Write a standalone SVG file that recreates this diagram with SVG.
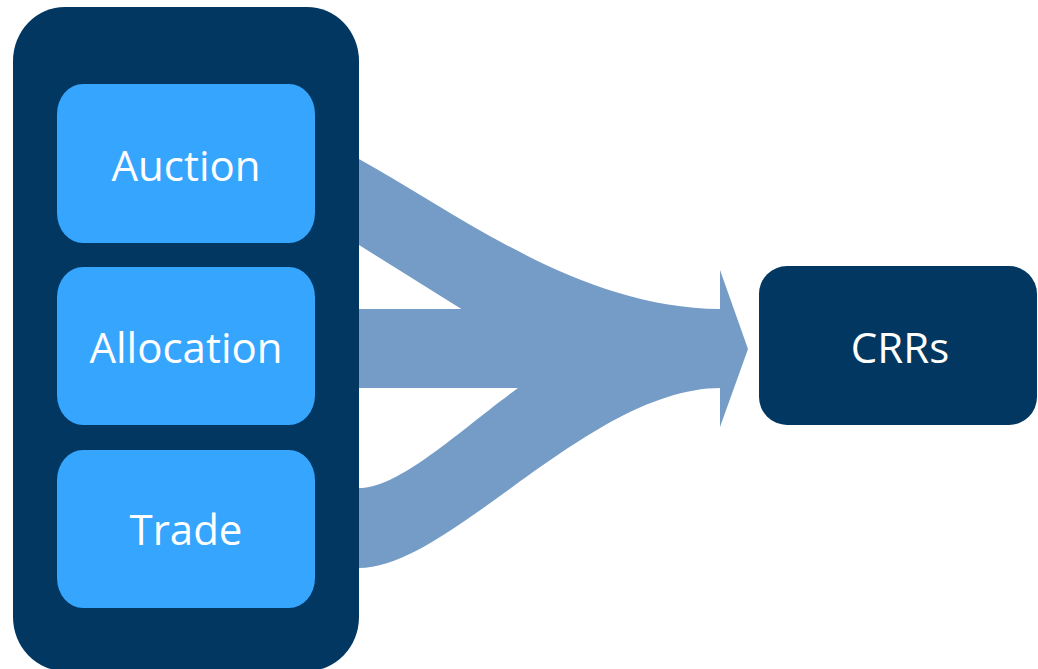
<svg xmlns="http://www.w3.org/2000/svg" width="1038" height="669" viewBox="0 0 1038 669">
<style>
.outer{fill:#023761}
.inner{fill:#36A5FE}
.lbl{font-family:"Open Sans","Liberation Sans",sans-serif;font-size:42px;fill:#FFFFFF;text-anchor:middle}
.flow{fill:#759CC6}
</style>
<rect width="1038" height="669" fill="#FFFFFF"/>
<g id="connectors">
<path class="flow" d="M359,159 C460,215 580,308 720,309 L720,340 L463,310 L359,245 Z"/>
<rect class="flow" x="358" y="309" width="363" height="79"/>
<path class="flow" d="M359,488 C400,488 460,430 518,388 L721,388 C590,388 450,568 359,568 Z"/>
<path class="flow" d="M720,270 L748,349 L720,427 Z"/>
</g>
<g id="container">
<rect class="outer" x="13" y="7" width="346" height="664" rx="52" ry="54"/>
</g>
<g id="auction">
<rect class="inner" x="57" y="84" width="258" height="159" rx="26" ry="30"/>
<text class="lbl" x="186" y="181">Auction</text>
</g>
<g id="allocation">
<rect class="inner" x="57" y="267" width="258" height="158" rx="26" ry="30"/>
<text class="lbl" x="186" y="363">Allocation</text>
</g>
<g id="trade">
<rect class="inner" x="57" y="450" width="258" height="158" rx="26" ry="30"/>
<text class="lbl" x="186" y="545">Trade</text>
</g>
<g id="crrs">
<rect class="outer" x="759" y="266" width="278" height="159" rx="28" ry="28"/>
<text class="lbl" x="900" y="363">CRRs</text>
</g>
</svg>
